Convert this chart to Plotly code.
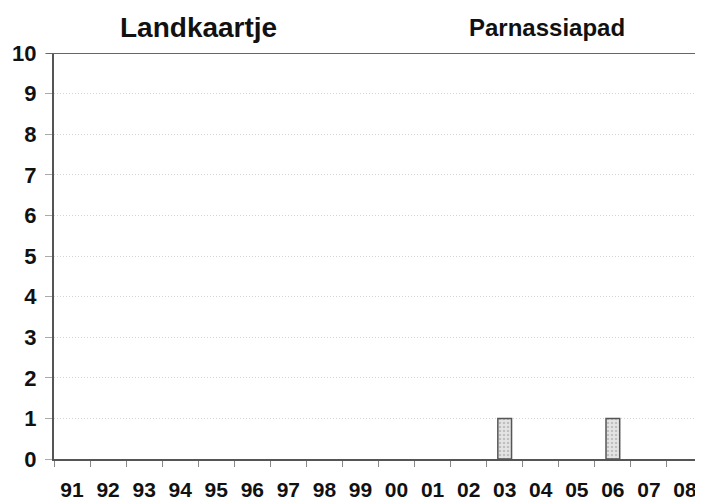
import plotly.graph_objects as go

years = ["91","92","93","94","95","96","97","98","99","00","01","02","03","04","05","06","07","08"]
counts = [0,0,0,0,0,0,0,0,0,0,0,0,1,0,0,1,0,0]
y_ticks = [0,1,2,3,4,5,6,7,8,9,10]

FONT = "Arial, Liberation Sans, sans-serif"

fig = go.Figure()
fig.add_trace(go.Bar(
    x=years, y=counts,
    marker=dict(color="#e4e4e4",
                line=dict(color="#555555", width=[1.5 if c > 0 else 0 for c in counts]),
                pattern=dict(shape=".", fgcolor="#999999", size=4, solidity=0.3)),
    width=0.38,
))

fig.update_layout(
    width=695, height=495,
    margin=dict(l=46, r=0, t=45, b=44, autoexpand=False),
    paper_bgcolor="white", plot_bgcolor="white",
    showlegend=False,
    font=dict(family=FONT, color="#111111"),
    xaxis=dict(
        type="category", range=[-0.5, 17.5], automargin=False,
        tickson="boundaries", ticks="outside", ticklen=6, tickcolor="#888888", tickwidth=1,
        showline=True, linecolor="#555555", linewidth=2,
        showgrid=False,
        tickfont=dict(size=21, family=FONT, weight="bold"),
        ticklabelstandoff=11,
    ),
    yaxis=dict(
        range=[0, 10], tickvals=y_ticks, automargin=False,
        ticks="outside", ticklen=7, tickcolor="#aaaaaa",
        showline=True, linecolor="#555555", linewidth=2,
        showgrid=True, gridcolor="#d4d4d4", griddash="1px,2px", gridwidth=1,
        zeroline=False,
        tickfont=dict(size=22, family=FONT, weight="bold"),
        ticklabelstandoff=4,
    ),
    shapes=[dict(type="line", xref="paper", yref="y", x0=-0.012, x1=1, y0=10, y1=10,
                 line=dict(color="#666666", width=2))],
    annotations=[
        dict(text="Landkaartje", xref="paper", yref="paper", x=0.2227, y=1.064,
             xanchor="center", yanchor="middle",
             showarrow=False, font=dict(size=28, family=FONT, weight="bold")),
        dict(text="Parnassiapad", xref="paper", yref="paper", x=0.7596, y=1.062,
             xanchor="center", yanchor="middle",
             showarrow=False, font=dict(size=24, family=FONT, weight="bold")),
    ],
)

fig.write_html("out.html")
